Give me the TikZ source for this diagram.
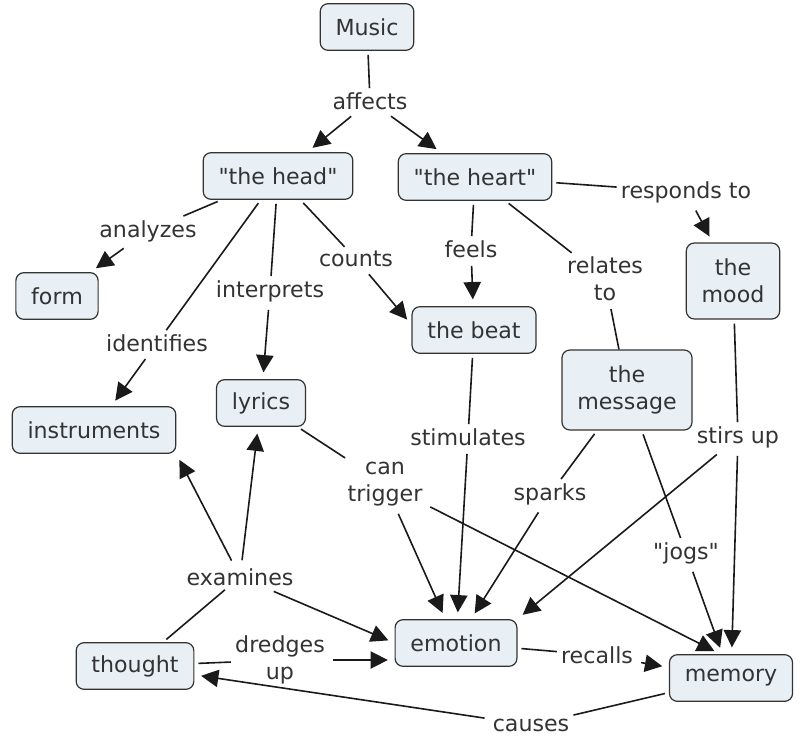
\documentclass[tikz,border=0pt]{standalone}
\usepackage{fontspec}
\setmainfont{DejaVu Sans}[Ligatures=TeXOff]
\usepackage{tikz}
\usetikzlibrary{positioning, arrows.meta, shapes}
\definecolor{cmapfill}{HTML}{E9F0F5}
\definecolor{cmaptext}{HTML}{333333}
\definecolor{cmapline}{HTML}{1A1A1A}
\tikzstyle{cblock} = [rectangle, draw=cmaptext, fill=cmapfill, text=cmaptext,
align=center, rounded corners=6pt, minimum height=35pt, inner xsep=11.5pt, line width=0.9pt]
\tikzstyle{tblock} = [cblock, minimum height=57pt]
\tikzstyle{lblock} = [rectangle, text=cmaptext, align=center, inner sep=3pt]
\tikzstyle{line} = [draw=cmapline, line width=1.2pt, shorten <=3pt]
\tikzstyle{arrow} = [line, -{Triangle[length=13pt,width=13pt]}, shorten >=5pt]

\begin{document}
\begin{tikzpicture}[x=0.75pt, y=-0.75pt]
                \tikzstyle{every node}=[font=\fontsize{16.6}{20}\selectfont]
                \useasboundingbox (0,0) rectangle (802,742);
                % concepts
                \node (1) [cblock] at (367,27) {Music};
                \node (2) [cblock] at (278,176) {"the head"};
                \node (3) [cblock] at (475,177) {"the heart"};
                \node (4) [tblock] at (733,281) {the\\mood};
                \node (5) [cblock] at (57,296) {form};
                \node (6) [cblock] at (474,330) {the beat};
                \node (7) [tblock, minimum height=60pt] at (627,390) {the\\message};
                \node (8) [cblock] at (261,403) {lyrics};
                \node (9) [cblock] at (94,430) {instruments};
                \node (10) [cblock] at (456,643) {emotion};
                \node (11) [cblock] at (135,666) {thought};
                \node (12) [cblock] at (731,678) {memory};
                % linking phrases
                \node (13) [lblock] at (370,101) {affects};
                \node (14) [lblock] at (148,231) {analyzes};
                \node (15) [lblock] at (356,259) {counts};
                \node (16) [lblock] at (270,291) {interprets};
                \node (17) [lblock] at (157,343) {identifies};
                \node (18) [lblock] at (471,249) {feels};
                \node (19) [lblock] at (605,279) {relates\\to};
                \node (20) [lblock] at (686,192) {responds to};
                \node (21) [lblock] at (468,437) {stimulates};
                \node (22) [lblock] at (738,437) {stirs up};
                \node (23) [lblock] at (385,484) {can\\trigger};
                \node (24) [lblock] at (550,494) {sparks};
                \node (25) [lblock] at (686,553) {"jogs"};
                \node (26) [lblock] at (240,577) {examines};
                \node (27) [lblock] at (280,660) {dredges\\up};
                \node (28) [lblock] at (597,655) {recalls};
                \node (29) [lblock] at (531,725) {causes};
                % connections
                \draw [line] (1) -- (13);
                \draw [arrow] (13) -- (2);
                \draw [arrow] (13) -- (3);
                \draw [line] (2) -- (14);
                \draw [arrow] (14) -- (5);
                \draw [line] (2) -- (15);
                \draw [arrow] (15) -- ([yshift=4pt]6.west);
                \draw [line] (2) -- (16);
                \draw [arrow] (16) -- (8);
                \draw [line] (2) -- (17);
                \draw [arrow] (17) -- (9);
                \draw [line] (3) -- (18);
                \draw [arrow] (18) -- (6);
                \draw [line] (3) -- (19);
                \draw [line] (19) -- (7);
                \draw [line] (3) -- (20);
                \draw [arrow] (20) -- (4);
                \draw [line] (6) -- (21);
                \draw [arrow] (21) -- (10);
                \draw [line] (4) -- (22);
                \draw [arrow] (22) -- (10.north east);
                \draw [arrow] (22) -- (12);
                \draw [line] (8) -- (23);
                \draw [arrow] (23) -- (10);
                \draw [arrow] (23) -- ([xshift=-8pt]12.north);
                \draw [line] (7) -- (24);
                \draw [arrow] (24) -- (10);
                \draw [line] (7) -- (25);
                \draw [arrow] (25) -- (12);
                \draw [line] (11) -- (26);
                \draw [arrow] (26) -- (9.south east);
                \draw [arrow] (26) -- (8);
                \draw [arrow] (26) -- (10.west);
                \draw [line] (11) -- (27);
                \draw [arrow] (27) -- (27 -| 10.west);
                \draw [line] (10) -- (28);
                \draw [arrow] (28) -- (12);
                \draw [line] (12) -- (29);
                \draw [arrow] (29) -- (11);
\end{tikzpicture}
\end{document}
